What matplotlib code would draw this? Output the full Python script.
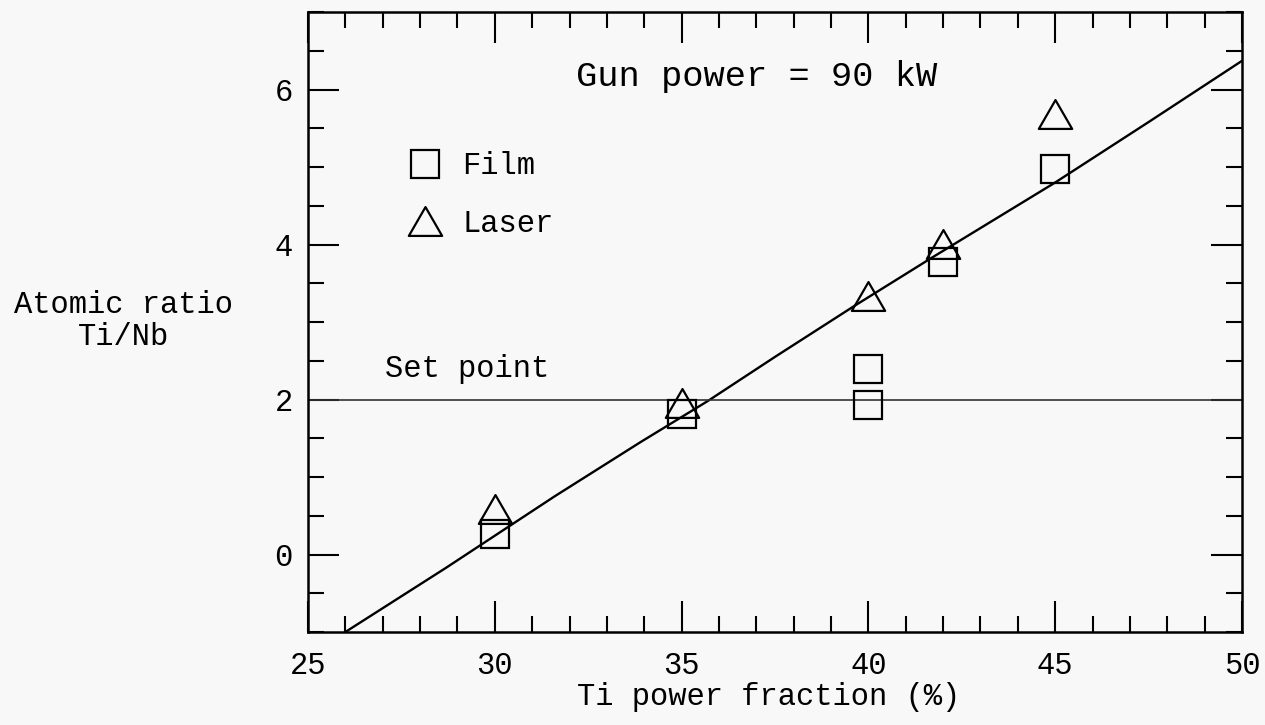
import matplotlib
matplotlib.use("Agg")
import matplotlib.pyplot as plt
from matplotlib.path import Path
from matplotlib.ticker import MultipleLocator

# Data
film_x = [30, 35, 40, 40, 42, 45]
film_y = [0.26, 1.81, 1.93, 2.40, 3.77, 4.97]
laser_x = [30, 35, 40, 42, 45]
laser_y = [0.59, 1.96, 3.33, 4.01, 5.68]
fit_x = [26.0, 28.7, 31.6, 33.9, 35.7, 37.5, 39.6, 41.7, 45.0, 47.5, 50.0]
fit_y = [-1.0, -0.17, 0.75, 1.45, 1.98, 2.55, 3.20, 3.83, 4.80, 5.58, 6.37]
set_point = 2.0

plt.rcParams["font.family"] = ["Liberation Mono", "DejaVu Sans Mono"]
bg = "#f8f8f8"

fig = plt.figure(figsize=(12.65, 7.25), dpi=100, facecolor=bg)
ax = fig.add_axes([308 / 1265, 1 - 632 / 725, 934 / 1265, 620 / 725])
ax.set_facecolor(bg)

# equilateral-ish open triangle marker
tri = Path([(-1, -0.866), (1, -0.866), (0, 0.866), (-1, -0.866)],
           [Path.MOVETO, Path.LINETO, Path.LINETO, Path.CLOSEPOLY])

ax.plot(fit_x, fit_y, color="k", lw=1.7)
ax.axhline(set_point, color="#333333", lw=1.2)

film, = ax.plot(film_x, film_y, ls="none", marker="s", ms=20, mfc="none",
                mec="k", mew=1.6, label="Film")
laser, = ax.plot(laser_x, laser_y, ls="none", marker=tri, ms=24, mfc="none",
                 mec="k", mew=1.6, label="Laser")

ax.set_xlim(25, 50)
ax.set_ylim(-1, 7)
ax.xaxis.set_major_locator(MultipleLocator(5))
ax.xaxis.set_minor_locator(MultipleLocator(1))
ax.set_yticks([0, 2, 4, 6])
ax.yaxis.set_minor_locator(MultipleLocator(0.5))
ax.tick_params(which="both", direction="in", top=True, right=True,
               width=1.5, labelsize=22)
ax.tick_params(which="major", length=22)
ax.tick_params(which="minor", length=11.5)
ax.tick_params(axis="x", pad=14)
ax.tick_params(axis="y", pad=11)
for s in ax.spines.values():
    s.set_linewidth(1.8)

ax.set_xlabel("Ti power fraction (%)", fontsize=22, va="center")
ax.xaxis.set_label_coords(0.4936, -0.105)
ax.set_ylabel("Atomic ratio\nTi/Nb", fontsize=22, rotation=0,
              ha="center", va="center", linespacing=1.1)
ax.yaxis.set_label_coords(-0.198, 0.502)

ax.text(37.0, 6.04, "Gun power = 90 kW", fontsize=25.5, ha="center",
        va="baseline")
ax.text(27.06, 2.29, "Set point", fontsize=22, ha="left", va="baseline")

ax.legend(handles=[film, laser], loc="upper left",
          bbox_to_anchor=(0.1089, 0.775), frameon=False, fontsize=22,
          handlelength=1.0, handletextpad=0.73, labelspacing=0.9,
          borderpad=0, borderaxespad=0, numpoints=1)

fig.savefig("out.png", dpi=100, facecolor=bg)
